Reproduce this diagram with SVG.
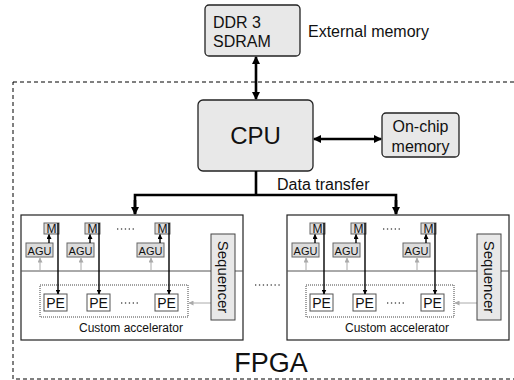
<svg xmlns="http://www.w3.org/2000/svg" width="514" height="380" viewBox="0 0 514 380">
  <style>
    text { font-family: "Liberation Sans", Arial, sans-serif; fill: #111; }
    .big { fill: #e8e8e8; stroke: #222; stroke-width: 1.3; }
    .mem { fill: #dcdcdc; stroke: #666; stroke-width: 1; }
    .pe { fill: #fff; stroke: #555; stroke-width: 1; }
    .thick { stroke: #000; stroke-width: 2.6; fill: none; }
    .thin { stroke: #000; stroke-width: 1.4; fill: none; }
    .gray { stroke: #aaa; stroke-width: 1; fill: none; }
    .dots { stroke: #555; stroke-width: 1.3; stroke-dasharray: 1.3 2.6; fill: none; }
  </style>
  <defs>
    <marker id="hd" viewBox="0 0 8 8" refX="7" refY="4" markerWidth="8" markerHeight="8" markerUnits="userSpaceOnUse" orient="auto-start-reverse">
      <path d="M0,0 L8,4 L0,8 z" fill="#000"/>
    </marker>
    <marker id="hs" viewBox="0 0 5 5" refX="4.5" refY="2.5" markerWidth="5" markerHeight="5" markerUnits="userSpaceOnUse" orient="auto">
      <path d="M0,0 L5,2.5 L0,5 z" fill="#000"/>
    </marker>
    <marker id="hg" viewBox="0 0 5 5" refX="4.5" refY="2.5" markerWidth="5" markerHeight="5" markerUnits="userSpaceOnUse" orient="auto">
      <path d="M0,0 L5,2.5 L0,5 z" fill="#aaa"/>
    </marker>

    <!-- one custom accelerator: memories, AGUs, PEs and sequencer -->
    <g id="accel">
      <rect x="21" y="215" width="222" height="125" fill="#fff" stroke="#222" stroke-width="1.2"/>
      <line x1="21" y1="271" x2="243" y2="271" stroke="#555" stroke-width="1"/>
      <!-- control lines to AGUs and PEs -->
      <line class="gray" x1="40" y1="271" x2="40" y2="258" marker-end="url(#hg)"/>
      <line class="gray" x1="81" y1="271" x2="81" y2="258" marker-end="url(#hg)"/>
      <line class="gray" x1="151" y1="271" x2="151" y2="258" marker-end="url(#hg)"/>
      <line class="gray" x1="211" y1="303" x2="189" y2="303" marker-end="url(#hg)"/>
      <rect x="40" y="285" width="148" height="32" fill="none" stroke="#444" stroke-width="1" stroke-dasharray="1 1"/>
      <g id="lane1">
        <rect class="mem" x="44" y="223" width="15" height="11"/>
        <text x="51.5" y="233" font-size="12" text-anchor="middle">M</text>
        <rect class="mem" x="26" y="243" width="27" height="14"/>
        <text x="39.5" y="254.5" font-size="11" text-anchor="middle">AGU</text>
        <rect class="pe" x="44" y="294" width="23" height="17"/>
        <text x="55.5" y="307.5" font-size="14" text-anchor="middle">PE</text>
      </g>
      <g id="lane2">
        <rect class="mem" x="85" y="223" width="15" height="11"/>
        <text x="92.5" y="233" font-size="12" text-anchor="middle">M</text>
        <rect class="mem" x="67" y="243" width="27" height="14"/>
        <text x="80.5" y="254.5" font-size="11" text-anchor="middle">AGU</text>
        <rect class="pe" x="87" y="294" width="23" height="17"/>
        <text x="98.5" y="307.5" font-size="14" text-anchor="middle">PE</text>
      </g>
      <g id="lane3">
        <rect class="mem" x="155" y="223" width="15" height="11"/>
        <text x="162.5" y="233" font-size="12" text-anchor="middle">M</text>
        <rect class="mem" x="137" y="243" width="27" height="14"/>
        <text x="150.5" y="254.5" font-size="11" text-anchor="middle">AGU</text>
        <rect class="pe" x="155" y="294" width="23" height="17"/>
        <text x="166.5" y="307.5" font-size="14" text-anchor="middle">PE</text>
      </g>
      <!-- AGU to memory address arrows -->
      <line class="thin" x1="49" y1="243" x2="49" y2="234.5" marker-end="url(#hs)"/>
      <line class="thin" x1="90" y1="243" x2="90" y2="234.5" marker-end="url(#hs)"/>
      <line class="thin" x1="160" y1="243" x2="160" y2="234.5" marker-end="url(#hs)"/>
      <!-- memory to PE data lines -->
      <line class="thin" x1="58" y1="223" x2="58" y2="294" marker-end="url(#hs)"/>
      <line class="thin" x1="99" y1="223" x2="99" y2="294" marker-end="url(#hs)"/>
      <line class="thin" x1="169" y1="223" x2="169" y2="294" marker-end="url(#hs)"/>
      <line class="dots" x1="117" y1="229" x2="135" y2="229"/>
      <line class="dots" x1="121" y1="303" x2="139" y2="303"/>
      <rect x="211" y="234" width="24" height="86" fill="#e8e8e8" stroke="#444" stroke-width="1"/>
      <text transform="translate(223,277) rotate(90)" font-size="15" text-anchor="middle" dy="5">Sequencer</text>
      <text x="131" y="332" font-size="12" text-anchor="middle">Custom accelerator</text>
    </g>
  </defs>

  <!-- FPGA boundary -->
  <rect x="13" y="82" width="520" height="297" fill="none" stroke="#000" stroke-width="1" stroke-dasharray="4 3"/>
  <text x="271" y="372" font-size="27" text-anchor="middle">FPGA</text>

  <g id="ddr">
    <rect class="big" x="205" y="5" width="95" height="51" rx="4"/>
    <text x="213" y="28" font-size="16">DDR 3</text>
    <text x="213" y="47" font-size="16">SDRAM</text>
  </g>
  <text x="308" y="37" font-size="16">External memory</text>

  <g id="cpu">
    <rect class="big" x="198" y="100" width="115" height="71" rx="5"/>
    <text x="255.5" y="144" font-size="24" text-anchor="middle">CPU</text>
  </g>

  <g id="onchip">
    <rect class="big" x="382" y="113" width="77" height="44" rx="4"/>
    <text x="420.5" y="132" font-size="16" text-anchor="middle">On-chip</text>
    <text x="420.5" y="152" font-size="16" text-anchor="middle">memory</text>
  </g>

  <g id="accelerator-1">
    <use href="#accel"/>
  </g>
  <g id="accelerator-2">
    <use href="#accel" transform="translate(266,0)"/>
  </g>
  <line class="dots" x1="255" y1="285" x2="281" y2="285"/>

  <g id="connectors">
    <line class="thick" x1="256" y1="57" x2="256" y2="99" marker-start="url(#hd)" marker-end="url(#hd)"/>
    <line class="thick" x1="314" y1="139" x2="381" y2="139" marker-start="url(#hd)" marker-end="url(#hd)"/>
    <line class="thick" x1="256" y1="171" x2="256" y2="195"/>
    <path class="thick" d="M135,214 V195 H396 V214" stroke-linejoin="miter"/>
    <line class="thick" x1="135" y1="200" x2="135" y2="214" marker-end="url(#hd)"/>
    <line class="thick" x1="396" y1="200" x2="396" y2="214" marker-end="url(#hd)"/>
    <text x="277" y="190" font-size="16">Data transfer</text>
  </g>
</svg>
